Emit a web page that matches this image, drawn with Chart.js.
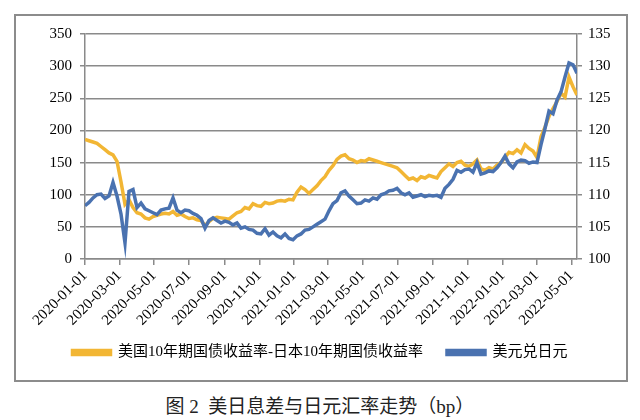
<!DOCTYPE html>
<html>
<head>
<meta charset="utf-8">
<script src="https://cdn.jsdelivr.net/npm/chart.js@4.4.1/dist/chart.umd.min.js"></script>
<style>
  html,body{margin:0;padding:0;background:#fff;}
  #wrap{position:relative;width:640px;height:420px;overflow:hidden;}
  #frame{position:absolute;left:14px;top:14px;width:610px;height:364px;border:2px solid #8c8c8c;}
  #c{position:absolute;left:0;top:0;}
  #cap{position:absolute;left:0;width:640px;top:391px;text-align:center;font-family:'Liberation Serif','Noto Sans CJK SC',serif;font-size:19px;color:#222;}
</style>
</head>
<body>
<div id="wrap">
  <div id="frame"></div>
  <canvas id="c" width="640" height="382"></canvas>
  <div id="cap">图 2&nbsp;&nbsp;美日息差与日元汇率走势（bp）</div>
</div>
<script>
const dates = [
 '2020-01-01','2020-01-08','2020-01-15','2020-01-22','2020-01-29','2020-02-05','2020-02-12','2020-02-19','2020-02-26','2020-03-04',
 '2020-03-11','2020-03-18','2020-03-25','2020-04-01','2020-04-08','2020-04-15','2020-04-22','2020-04-29','2020-05-06','2020-05-13',
 '2020-05-20','2020-05-27','2020-06-03','2020-06-10','2020-06-17','2020-06-24','2020-07-01','2020-07-08','2020-07-15','2020-07-22',
 '2020-07-29','2020-08-05','2020-08-12','2020-08-19','2020-08-26','2020-09-02','2020-09-09','2020-09-16','2020-09-23','2020-09-30',
 '2020-10-07','2020-10-14','2020-10-21','2020-10-28','2020-11-04','2020-11-11','2020-11-18','2020-11-25','2020-12-02','2020-12-09',
 '2020-12-16','2020-12-23','2020-12-30','2021-01-06','2021-01-13','2021-01-20','2021-01-27','2021-02-03','2021-02-10','2021-02-17',
 '2021-02-24','2021-03-03','2021-03-10','2021-03-17','2021-03-24','2021-03-31','2021-04-07','2021-04-14','2021-04-21','2021-04-28',
 '2021-05-05','2021-05-12','2021-05-19','2021-05-26','2021-06-02','2021-06-09','2021-06-16','2021-06-23','2021-06-30','2021-07-07',
 '2021-07-14','2021-07-21','2021-07-28','2021-08-04','2021-08-11','2021-08-18','2021-08-25','2021-09-01','2021-09-08','2021-09-15',
 '2021-09-22','2021-09-29','2021-10-06','2021-10-13','2021-10-20','2021-10-27','2021-11-03','2021-11-10','2021-11-17','2021-11-24',
 '2021-12-01','2021-12-08','2021-12-15','2021-12-22','2021-12-29','2022-01-05','2022-01-12','2022-01-19','2022-01-26','2022-02-02',
 '2022-02-09','2022-02-16','2022-02-23','2022-03-02','2022-03-09','2022-03-16','2022-03-23','2022-03-30','2022-04-06','2022-04-13',
 '2022-04-20','2022-04-27','2022-05-04','2022-05-11'
];
const spread = [
 186,184,182,180,175,170,165,162,152,120,
 85,92,80,72,70,64,62,66,68,70,
 71,70,74,68,70,66,63,64,61,60,
 52,58,63,65,64,63,62,67,72,74,
 80,78,86,83,82,88,86,87,90,91,
 90,93,92,104,112,108,102,108,114,122,
 128,138,145,155,160,162,156,154,150,153,
 152,156,154,152,150,148,146,144,142,136,
 130,124,126,122,128,126,130,128,126,136,
 142,148,144,150,152,146,144,148,154,140,
 138,142,140,146,150,158,166,164,170,165,
 178,172,168,158,190,205,222,234,245,258,
 252,283,268,255
];
const usdjpy = [
 108.3,108.8,109.5,110.0,110.1,109.4,109.8,111.9,109.8,107.0,
 102.5,110.5,110.8,108.0,108.7,107.8,107.5,107.2,106.9,107.6,
 107.8,107.9,109.5,107.6,107.2,107.6,107.5,107.1,106.8,106.3,
 104.8,106.0,106.4,106.0,105.6,105.9,105.7,105.3,105.6,104.8,
 105.0,104.6,104.5,104.0,103.9,104.7,103.7,104.2,103.6,103.3,
 103.9,103.2,103.0,103.6,103.9,104.5,104.6,105.0,105.4,105.8,
 106.2,107.5,108.6,109.1,110.3,110.6,109.8,109.2,108.6,108.7,
 109.2,109.0,109.5,109.3,110.0,110.2,110.6,110.7,111.0,110.3,
 110.0,110.3,109.6,109.8,110.0,109.7,109.9,109.8,109.9,109.6,
 111.0,111.6,112.4,113.8,113.5,113.9,114.0,113.5,115.0,113.2,
 113.4,113.7,113.6,114.2,115.0,116.0,114.8,114.2,115.1,115.4,
 115.3,114.9,115.1,115.0,117.8,120.3,123.0,122.6,124.7,126.0,
 128.3,130.5,130.2,128.9
];
const tickLabels = ['2020-01-01','2020-03-01','2020-05-01','2020-07-01','2020-09-01','2020-11-01',
 '2021-01-01','2021-03-01','2021-05-01','2021-07-01','2021-09-01','2021-11-01',
 '2022-01-01','2022-03-01','2022-05-01'];
const seriesNames = ['美国10年期国债收益率-日本10年期国债收益率','美元兑日元'];
const axisEnd = '2022-05-11';

const DAY = 86400000;
const t0 = Date.UTC(2020,0,1);
function dayOf(s){ const p=s.split('-').map(Number); return Math.round((Date.UTC(p[0],p[1]-1,p[2])-t0)/DAY); }
const tickDays = tickLabels.map(dayOf);

const YEL = '#F2B634';
const BLUE = '#4A72B0';
const GRAY = '#8a8a8a';
const FONT = "'Liberation Serif', 'Noto Sans CJK SC', serif";

// let the rotated date labels extend below the axis box without being clipped
const unclipLabels = {
  id: 'unclipLabels',
  afterLayout(chart){ chart.scales.x.bottom += 40; }
};

function draw(){
new Chart(document.getElementById('c'), {
  type: 'line',
  data: {
    datasets: [
      {label: seriesNames[0], data: dates.map((d,i)=>({x:dayOf(d), y:spread[i]})), borderColor: YEL, backgroundColor: YEL,
       borderWidth: 3.5, pointRadius: 0, yAxisID: 'y', order: 1, tension: 0},
      {label: seriesNames[1], data: dates.map((d,i)=>({x:dayOf(d), y:usdjpy[i]})), borderColor: BLUE, backgroundColor: BLUE,
       borderWidth: 3.5, pointRadius: 0, yAxisID: 'y1', order: 0, tension: 0}
    ]
  },
  plugins: [unclipLabels],
  options: {
    responsive: false, animation: false, devicePixelRatio: 1,
    layout: {padding: {top: 34, left: 0, right: 0, bottom: 12}},
    plugins: {
      legend: {position: 'bottom', labels: {boxWidth: 38, boxHeight: 4, padding: 24, color: '#000',
        font: {size: 15, family: FONT}, sort: (a,b)=>a.datasetIndex-b.datasetIndex}},
      tooltip: {enabled: false}
    },
    scales: {
      x: {type: 'linear', min: 0, max: dayOf(axisEnd),
        afterBuildTicks: s => { s.ticks = tickDays.map(v=>({value:v})); },
        afterFit: s => { s.height = 62; },
        ticks: {autoSkip: false, minRotation: 45, maxRotation: 45, color: '#000', padding: 2,
          font: {size: 15, family: FONT}, callback: (v,i) => tickLabels[i]},
        grid: {drawOnChartArea: false, color: GRAY, lineWidth: 1.5, tickLength: 6},
        border: {color: GRAY, width: 1.5}
      },
      y: {position: 'left', min: 0, max: 350,
        afterFit: s => { s.width = 85; },
        ticks: {stepSize: 50, color: '#000', padding: 8, font: {size: 15, family: FONT}},
        grid: {color: GRAY, lineWidth: 1.5, tickLength: 5},
        border: {color: GRAY, width: 1.5}
      },
      y1: {position: 'right', min: 100, max: 135,
        afterFit: s => { s.width = 63; },
        ticks: {stepSize: 5, color: '#000', padding: 6, font: {size: 15, family: FONT}},
        grid: {drawOnChartArea: false, color: GRAY, lineWidth: 1.5, tickLength: 5},
        border: {color: GRAY, width: 1.5}
      }
    }
  }
});
}
Promise.all([
  document.fonts.load("15px 'Liberation Serif'"),
  document.fonts.load("15px 'Noto Sans CJK SC'", '美国')
]).then(draw, draw);
</script>
</body>
</html>
